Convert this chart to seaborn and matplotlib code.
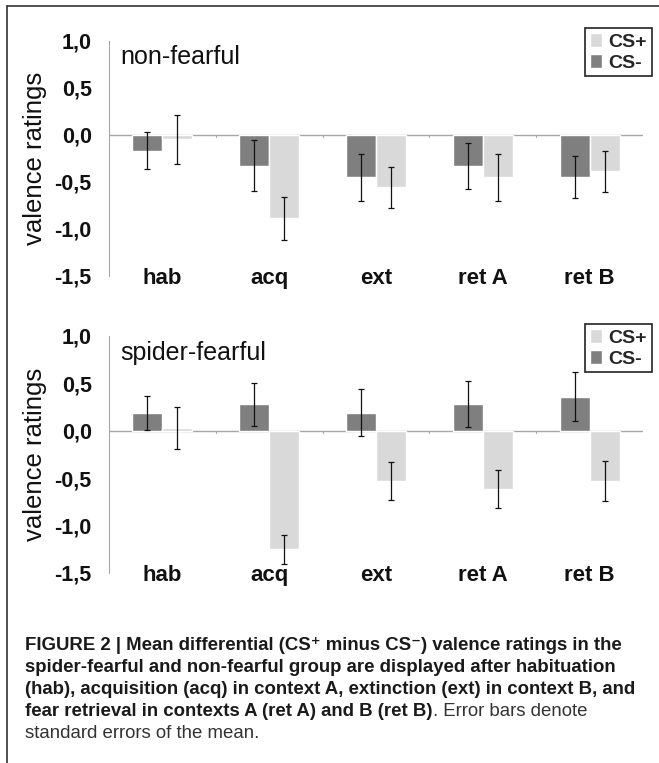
import matplotlib
matplotlib.use("Agg")
import matplotlib.pyplot as plt
import seaborn as sns
import pandas as pd
from matplotlib.lines import Line2D

# Datos
categories = ["hab", "acq", "ext", "ret A", "ret B"]

nonfearful_cs_minus = [-0.17, -0.33, -0.45, -0.33, -0.45]
nonfearful_cs_minus_se = [0.20, 0.27, 0.25, 0.245, 0.22]
nonfearful_cs_plus = [-0.05, -0.89, -0.56, -0.45, -0.39]
nonfearful_cs_plus_se = [0.26, 0.23, 0.22, 0.25, 0.22]

fearful_cs_minus = [0.19, 0.28, 0.19, 0.28, 0.36]
fearful_cs_minus_se = [0.18, 0.225, 0.25, 0.245, 0.26]
fearful_cs_plus = [0.03, -1.25, -0.53, -0.61, -0.53]
fearful_cs_plus_se = [0.22, 0.15, 0.20, 0.20, 0.215]

y_ticks = [1.0, 0.5, 0.0, -0.5, -1.0, -1.5]
y_tick_labels = ["1,0", "0,5", "0,0", "-0,5", "-1,0", "-1,5"]

caption_bold = [
    "FIGURE 2 | Mean differential (CS\u207a minus CS\u207b) valence ratings in the",
    "spider-fearful and non-fearful group are displayed after habituation",
    "(hab), acquisition (acq) in context A, extinction (ext) in context B, and",
    "fear retrieval in contexts A (ret A) and B (ret B)",
]
caption_regular = [". Error bars denote", "standard errors of the mean."]

colors = {"CS-": "#7f7f7f", "CS+": "#d9d9d9"}
axis_gray = "#a6a6a6"

sns.set_style("white")
plt.rcParams["font.family"] = ["Liberation Sans", "DejaVu Sans"]

fig = plt.figure(figsize=(6.59, 7.63), dpi=100)
W, H = 659, 763


def draw_panel(rect, title, minus, minus_se, plus, plus_se, legend_top):
    ax = fig.add_axes(rect)
    df = pd.DataFrame({
        "fase": categories * 2,
        "estimulo": ["CS-"] * len(categories) + ["CS+"] * len(categories),
        "valor": minus + plus,
    })
    ax.axhline(0, color=axis_gray, lw=1, zorder=0)
    # pequenas marcas entre categorias sobre la linea del cero
    for k in range(1, len(categories)):
        ax.plot([k - 0.5, k - 0.5], [0, -0.02], color=axis_gray, lw=0.8, zorder=0)
    sns.barplot(data=df, x="fase", y="valor", hue="estimulo",
                hue_order=["CS-", "CS+"], palette=colors, width=0.56,
                saturation=1, errorbar=None, ax=ax, zorder=2)
    # barras de error (error estandar)
    for cont, se in zip(ax.containers, [minus_se, plus_se]):
        xs = [b.get_x() + b.get_width() / 2 for b in cont]
        ys = [b.get_y() + b.get_height() for b in cont]
        ax.errorbar(xs, ys, yerr=se, fmt="none", ecolor="#111111",
                    elinewidth=0.9, capsize=2, capthick=0.9, zorder=3)

    ax.set_xlim(-0.5, len(categories) - 0.5)
    ax.set_ylim(-1.5, 1.0)
    ax.set_yticks(y_ticks, labels=y_tick_labels)
    ax.set_xticks([])
    ax.set_xlabel("")
    sns.despine(ax=ax, bottom=True)
    ax.spines["left"].set_color(axis_gray)
    ax.tick_params(axis="y", length=4.5, color=axis_gray, pad=8,
                   labelsize=15.5)
    for lab in ax.get_yticklabels():
        lab.set_fontweight("bold")
        lab.set_color("#111111")
    for i, c in enumerate(categories):
        ax.text(i, -1.5, c, ha="center", va="center_baseline",
                fontsize=16, fontweight="bold", color="#111111")

    ax.set_ylabel("valence ratings", fontsize=18.5, color="#111111")
    ax.yaxis.set_label_coords(-0.116, 0.5)
    ax.text(0.021, 0.93, title, transform=ax.transAxes, fontsize=18,
            ha="left", va="center", color="#111111")

    handles, labels = ax.get_legend_handles_labels()
    ax.get_legend().remove()
    leg = ax.legend([handles[1], handles[0]], [labels[1], labels[0]],
                    loc="upper right", bbox_to_anchor=(652 / W, 1 - legend_top / H),
                    bbox_transform=fig.transFigure, fancybox=False,
                    edgecolor="#222222", framealpha=1, borderpad=0.25,
                    handlelength=0.6, handleheight=0.75, handletextpad=0.35,
                    labelspacing=0.15, borderaxespad=0,
                    prop={"weight": "bold", "size": 14})
    leg.get_frame().set_linewidth(1.2)
    return ax


def rect_px(x0, x1, ytop, ybot):
    return [x0 / W, 1 - ybot / H, (x1 - x0) / W, (ybot - ytop) / H]


draw_panel(rect_px(109, 643, 40.7, 275.7), "non-fearful",
           nonfearful_cs_minus, nonfearful_cs_minus_se,
           nonfearful_cs_plus, nonfearful_cs_plus_se, 28)
draw_panel(rect_px(109, 643, 336, 573), "spider-fearful",
           fearful_cs_minus, fearful_cs_minus_se,
           fearful_cs_plus, fearful_cs_plus_se, 324)

# marco de la figura
fig.add_artist(Line2D([7 / W, 1], [1 - 6 / H, 1 - 6 / H], color="#333333", lw=1.2))
fig.add_artist(Line2D([7 / W, 7 / W], [0, 1 - 6 / H], color="#333333", lw=1.2))

# leyenda de la figura
line_y = [645, 667, 689, 711, 733]
x0 = 25 / W
cap_size = 13.4
texts = []
for i, line in enumerate(caption_bold):
    t = fig.text(x0, 1 - line_y[i] / H, line, fontsize=cap_size, fontweight="bold",
                 ha="left", va="center", color="#1a1a1a")
    texts.append(t)
renderer = fig.canvas.get_renderer()
bb = texts[3].get_window_extent(renderer)
fig.text(bb.x1 / fig.bbox.width, 1 - line_y[3] / H, caption_regular[0],
         fontsize=cap_size, ha="left", va="center", color="#333333")
fig.text(x0, 1 - line_y[4] / H, caption_regular[1], fontsize=cap_size,
         ha="left", va="center", color="#333333")

fig.savefig("out.png", dpi=100)
